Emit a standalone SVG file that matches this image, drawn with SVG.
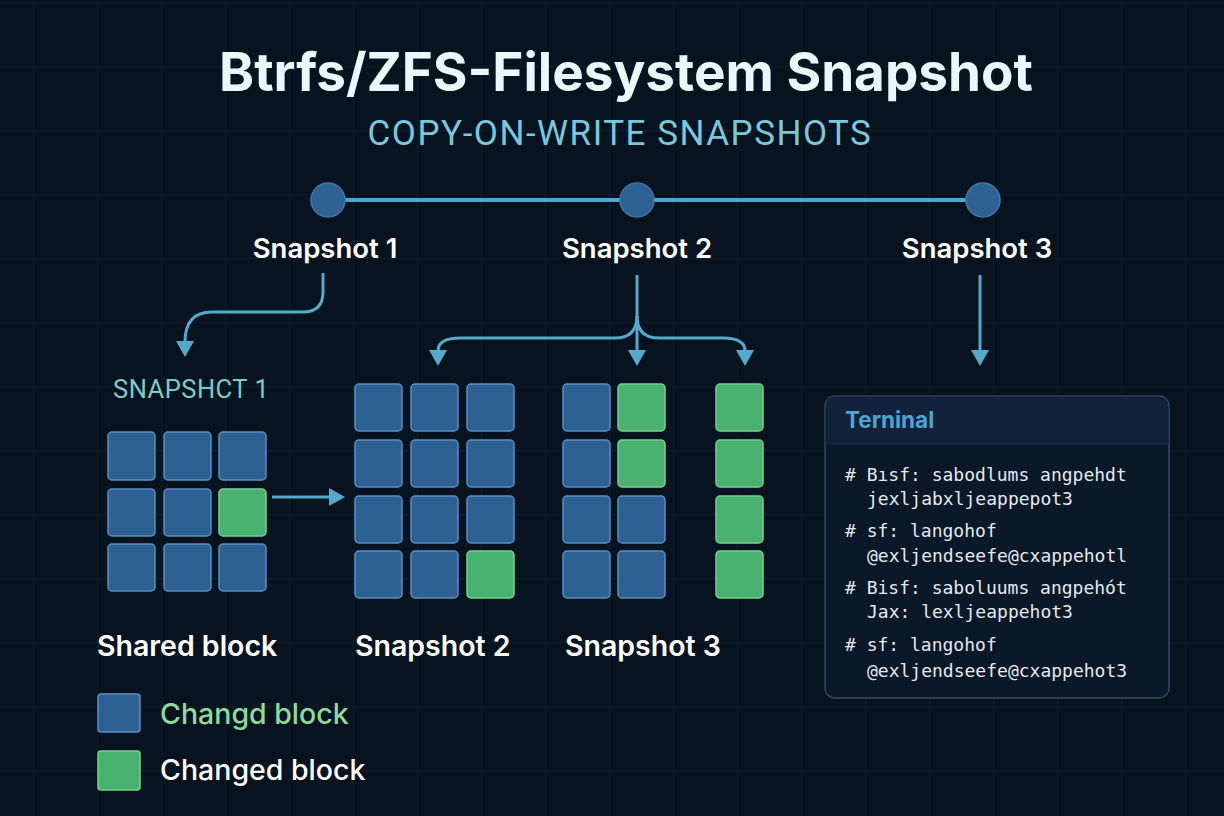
<svg xmlns="http://www.w3.org/2000/svg" width="1224" height="816" viewBox="0 0 1224 816">
  <defs>
    <pattern id="grid" x="33" y="2" width="64" height="64" patternUnits="userSpaceOnUse">
      <path d="M0 0 H64 M0 0 V64" fill="none" stroke="#10253a" stroke-width="1"/>
    </pattern>
    <marker id="arr" viewBox="0 0 16 18" refX="1" refY="9" markerWidth="16" markerHeight="18" markerUnits="userSpaceOnUse" orient="auto">
      <path d="M0 0 L16 9 L0 18 Z" fill="#55a9cc"/>
    </marker>
  </defs>
  <style>
    .title { font-family: Inter, "Liberation Sans", sans-serif; font-weight: 700; font-size: 53px; fill: #eaf7fb; }
    .sub { font-family: Roboto, "Liberation Sans", sans-serif; font-size: 35px; letter-spacing: 1.5px; fill: #7cc7dc; }
    .lbl { font-family: Inter, "Liberation Sans", sans-serif; font-weight: 600; font-size: 27.5px; fill: #ffffff; }
    .lbl2 { font-family: Inter, "Liberation Sans", sans-serif; font-weight: 600; font-size: 28.5px; fill: #ffffff; }
    .leg { font-family: Inter, "Liberation Sans", sans-serif; font-weight: 500; font-size: 28.5px; fill: #ffffff; }
    .teal { font-family: Roboto, "Liberation Sans", sans-serif; font-size: 25.5px; letter-spacing: 0.5px; fill: #7dcdc4; }
    .blue { fill: #2e6193; stroke: #5b8fc0; stroke-width: 1.5; }
    .green { fill: #49b271; stroke: #78d193; stroke-width: 1.5; }
    .conn { fill: none; stroke: #55a9cc; stroke-width: 3; }
    .node { fill: #2e6193; stroke: #3f77a8; stroke-width: 1.5; }
    .mono { font-family: "DejaVu Sans Mono", "Liberation Mono", monospace; font-size: 18px; fill: #e3e9ee; }
  </style>

  <rect width="1224" height="816" fill="#07131f"/>
  <rect width="1224" height="816" fill="url(#grid)"/>

  <text class="title" x="626" y="91" text-anchor="middle">Btrfs/ZFS-Filesystem Snapshot</text>
  <text class="sub" x="620" y="145" text-anchor="middle">COPY-ON-WRITE SNAPSHOTS</text>

  <!-- connectors -->
  <g id="connectors">
    <line x1="345" y1="200" x2="966" y2="200" stroke="#4fa6d0" stroke-width="4"/>
    <path class="conn" d="M323 273 V292 Q323 312 303 312 H212 Q185 312 185 342" marker-end="url(#arr)"/>
    <path class="conn" d="M637 275 V351" marker-end="url(#arr)"/>
    <path class="conn" d="M637 316 Q637 338 615 338 H460 Q438 338 438 351" marker-end="url(#arr)"/>
    <path class="conn" d="M637 316 Q637 338 659 338 H723 Q745 338 745 351" marker-end="url(#arr)"/>
    <path class="conn" d="M980 275 V351" marker-end="url(#arr)"/>
    <path class="conn" d="M272 497 H330" marker-end="url(#arr)"/>
  </g>

  <!-- timeline nodes -->
  <g id="snap1">
    <circle class="node" cx="328" cy="200" r="17"/>
    <text class="lbl" x="325" y="258" text-anchor="middle">Snapshot 1</text>
  </g>
  <g id="snap2">
    <circle class="node" cx="637" cy="200" r="17"/>
    <text class="lbl" x="637" y="258" text-anchor="middle">Snapshot 2</text>
  </g>
  <g id="snap3">
    <circle class="node" cx="983" cy="200" r="17"/>
    <text class="lbl" x="977" y="258" text-anchor="middle">Snapshot 3</text>
  </g>

  <!-- grid A -->
  <g id="gridA">
    <text class="teal" x="113" y="398">SNAPSHCT 1</text>
    <rect class="blue" x="108" y="432" width="47" height="48" rx="4"/>
    <rect class="blue" x="164" y="432" width="47" height="48" rx="4"/>
    <rect class="blue" x="219" y="432" width="47" height="48" rx="4"/>
    <rect class="blue" x="108" y="489" width="47" height="47" rx="4"/>
    <rect class="blue" x="164" y="489" width="47" height="47" rx="4"/>
    <rect class="green" x="219" y="489" width="47" height="47" rx="4"/>
    <rect class="blue" x="108" y="544" width="47" height="47" rx="4"/>
    <rect class="blue" x="164" y="544" width="47" height="47" rx="4"/>
    <rect class="blue" x="219" y="544" width="47" height="47" rx="4"/>
    <text class="lbl2" x="97" y="656">Shared block</text>
  </g>

  <!-- grid B -->
  <g id="gridB">
    <rect class="blue" x="355" y="384" width="47" height="47" rx="4"/>
    <rect class="blue" x="411" y="384" width="47" height="47" rx="4"/>
    <rect class="blue" x="467" y="384" width="47" height="47" rx="4"/>
    <rect class="blue" x="355" y="440" width="47" height="47" rx="4"/>
    <rect class="blue" x="411" y="440" width="47" height="47" rx="4"/>
    <rect class="blue" x="467" y="440" width="47" height="47" rx="4"/>
    <rect class="blue" x="355" y="496" width="47" height="47" rx="4"/>
    <rect class="blue" x="411" y="496" width="47" height="47" rx="4"/>
    <rect class="blue" x="467" y="496" width="47" height="47" rx="4"/>
    <rect class="blue" x="355" y="551" width="47" height="47" rx="4"/>
    <rect class="blue" x="411" y="551" width="47" height="47" rx="4"/>
    <rect class="green" x="467" y="551" width="47" height="47" rx="4"/>
    <text class="lbl2" x="355" y="656">Snapshot 2</text>
  </g>

  <!-- grid C -->
  <g id="gridC">
    <rect class="blue" x="563" y="384" width="47" height="47" rx="4"/>
    <rect class="green" x="618" y="384" width="47" height="47" rx="4"/>
    <rect class="green" x="716" y="384" width="47" height="47" rx="4"/>
    <rect class="blue" x="563" y="440" width="47" height="47" rx="4"/>
    <rect class="green" x="618" y="440" width="47" height="47" rx="4"/>
    <rect class="green" x="716" y="440" width="47" height="47" rx="4"/>
    <rect class="blue" x="563" y="496" width="47" height="47" rx="4"/>
    <rect class="blue" x="618" y="496" width="47" height="47" rx="4"/>
    <rect class="green" x="716" y="496" width="47" height="47" rx="4"/>
    <rect class="blue" x="563" y="551" width="47" height="47" rx="4"/>
    <rect class="blue" x="618" y="551" width="47" height="47" rx="4"/>
    <rect class="green" x="716" y="551" width="47" height="47" rx="4"/>
    <text class="lbl2" x="565" y="656">Snapshot 3</text>
  </g>

  <!-- legend -->
  <g id="legend">
    <rect class="blue" x="98" y="694" width="42" height="38" rx="3"/>
    <text class="leg" x="160" y="724" style="fill:#8edb9c">Changd block</text>
    <rect class="green" x="98" y="751" width="42" height="39" rx="3"/>
    <text class="leg" x="160" y="780">Changed block</text>
  </g>

  <!-- terminal -->
  <g id="terminal">
    <rect x="825" y="396" width="344" height="302" rx="10" fill="#0b1828" stroke="#34485e" stroke-width="1.5"/>
    <path d="M835 396.75 H1159 Q1168.25 396.75 1168.25 406 V445 H825.75 V406 Q825.75 396.75 835 396.75 Z" fill="#11223a"/>
    <text x="845" y="428" style="font-family:Inter,'Liberation Sans',sans-serif;font-weight:700;font-size:22.5px;fill:#4ea5d2">Terninal</text>
    <text class="mono" x="845" y="481"># Bısf: sabodlums angpehdt</text>
    <text class="mono" x="867" y="505">jexljabxljeappepot3</text>
    <text class="mono" x="845" y="537"># sf: langohof</text>
    <text class="mono" x="867" y="562">@exljendseefe@cxappehotl</text>
    <text class="mono" x="845" y="594"># Bisf: saboluums angpehót</text>
    <text class="mono" x="867" y="618">Jax: lexljeappehot3</text>
    <text class="mono" x="845" y="651"># sf: langohof</text>
    <text class="mono" x="867" y="677">@exljendseefe@cxappehot3</text>
  </g>
</svg>
